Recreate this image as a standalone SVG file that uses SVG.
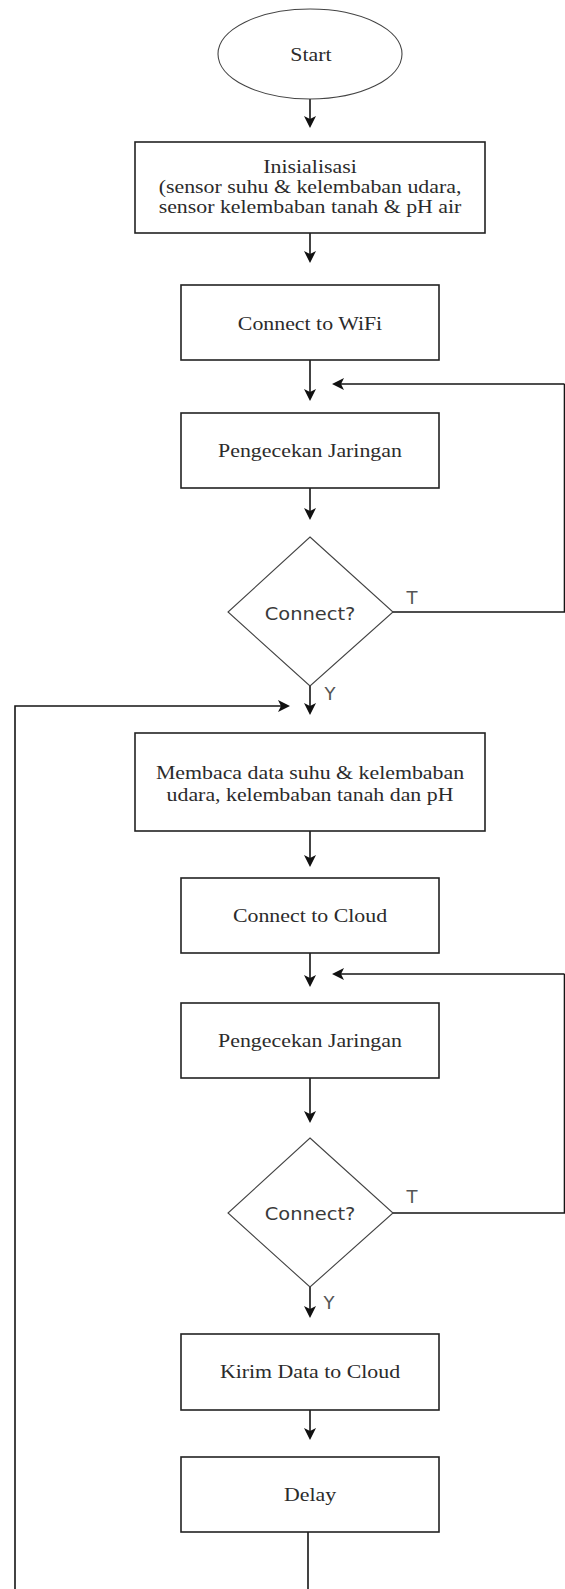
<svg xmlns="http://www.w3.org/2000/svg" width="565" height="1589" viewBox="0 0 565 1589">
<style>
.bg{fill:#ffffff}
.box{fill:#ffffff;stroke:#222222;stroke-width:1.6}
.dia{fill:#ffffff;stroke:#444444;stroke-width:1.1}
.ell{fill:#ffffff;stroke:#444444;stroke-width:1.1}
.s{font-family:"Liberation Serif","Times New Roman",serif;font-size:19px;fill:#2b2b2b;text-anchor:middle}
.d{font-family:"DejaVu Sans",Verdana,sans-serif;font-size:18px;fill:#3a3a3a;text-anchor:middle}
.lb{font-family:"DejaVu Sans",Verdana,sans-serif;font-size:18px;fill:#555555;text-anchor:middle}
.c{fill:none;stroke:#151515;stroke-width:1.6}
.ca{fill:none;stroke:#151515;stroke-width:1.6;marker-end:url(#ah)}
</style>
<defs>
<marker id="ah" markerUnits="userSpaceOnUse" markerWidth="14" markerHeight="14" refX="4" refY="0" viewBox="0 -7 14 14" orient="auto">
<path d="M0,-6 L12,0 L0,6 L3,0 Z" fill="#111111"/>
</marker>
</defs>
<rect class="bg" x="0" y="0" width="565" height="1589"/>

<g id="connectors">
<path class="ca" d="M310,99 V120"/>
<path class="ca" d="M310,233 V255"/>
<path class="ca" d="M310,360 V393"/>
<path class="c" d="M393,612 H564.5 V384"/>
<path class="ca" d="M564.5,384 H340"/>
<path class="ca" d="M310,488 V512"/>
<path class="ca" d="M310,686 V707"/>
<path class="ca" d="M15,1589 V706 H282"/>
<path class="ca" d="M310,831 V859"/>
<path class="ca" d="M310,953 V979"/>
<path class="c" d="M393,1213 H564.5 V974"/>
<path class="ca" d="M564.5,974 H340"/>
<path class="ca" d="M310,1078 V1115"/>
<path class="ca" d="M310,1287 V1310"/>
<path class="ca" d="M310,1410 V1432"/>
<path class="c" d="M308,1532 V1589"/>
</g>

<g id="start">
<ellipse class="ell" cx="310" cy="54" rx="92" ry="45"/>
<text class="s" transform="translate(311 61) scale(1.15 1)">Start</text>
</g>

<g id="init">
<rect class="box" x="135" y="142" width="350" height="91"/>
<text class="s" transform="translate(310 173) scale(1.15 1)">Inisialisasi</text>
<text class="s" transform="translate(310 193) scale(1.15 1)">(sensor suhu &amp; kelembaban udara,</text>
<text class="s" transform="translate(310 213) scale(1.15 1)">sensor kelembaban tanah &amp; pH air</text>
</g>

<g id="wifi">
<rect class="box" x="181" y="285" width="258" height="75"/>
<text class="s" transform="translate(310 330) scale(1.15 1)">Connect to WiFi</text>
</g>

<g id="cek1">
<rect class="box" x="181" y="413" width="258" height="75"/>
<text class="s" transform="translate(310 457) scale(1.15 1)">Pengecekan Jaringan</text>
</g>

<g id="dec1">
<polygon class="dia" points="310,537 393,612 310,686 228,612"/>
<text class="d" transform="translate(310 620) scale(1.08 1)">Connect?</text>
<text class="lb" x="412" y="604">T</text>
<text class="lb" x="330" y="700">Y</text>
</g>

<g id="baca">
<rect class="box" x="135" y="733" width="350" height="98"/>
<text class="s" transform="translate(310 779) scale(1.15 1)">Membaca data suhu &amp; kelembaban</text>
<text class="s" transform="translate(310 801) scale(1.15 1)">udara, kelembaban tanah dan pH</text>
</g>

<g id="cloud">
<rect class="box" x="181" y="878" width="258" height="75"/>
<text class="s" transform="translate(310 922) scale(1.15 1)">Connect to Cloud</text>
</g>

<g id="cek2">
<rect class="box" x="181" y="1003" width="258" height="75"/>
<text class="s" transform="translate(310 1047) scale(1.15 1)">Pengecekan Jaringan</text>
</g>

<g id="dec2">
<polygon class="dia" points="310,1138 393,1213 310,1287 228,1213"/>
<text class="d" transform="translate(310 1220) scale(1.08 1)">Connect?</text>
<text class="lb" x="412" y="1203">T</text>
<text class="lb" x="329" y="1309">Y</text>
</g>

<g id="kirim">
<rect class="box" x="181" y="1334" width="258" height="76"/>
<text class="s" transform="translate(310 1378) scale(1.15 1)">Kirim Data to Cloud</text>
</g>

<g id="delay">
<rect class="box" x="181" y="1457" width="258" height="75"/>
<text class="s" transform="translate(310 1501) scale(1.15 1)">Delay</text>
</g>
</svg>
